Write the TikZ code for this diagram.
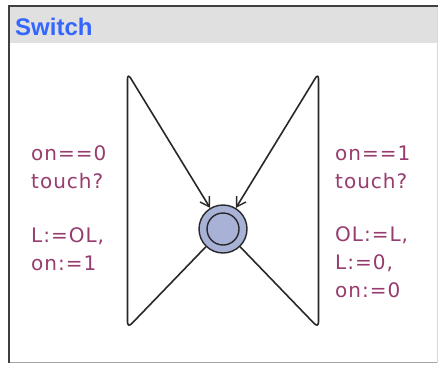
\documentclass[tikz,border=0pt]{standalone}
\usepackage{fontspec}
\setmainfont{DejaVu Sans}
\newfontfamily\labelfont[LetterSpace=5]{DejaVu Sans}
\newfontfamily\titlefont{Liberation Sans}
\usetikzlibrary{arrows.meta}
\definecolor{lblcol}{RGB}{150,60,110}
\definecolor{nodefill}{RGB}{168,178,214}
\definecolor{titleblue}{RGB}{51,102,255}
\definecolor{barbg}{RGB}{224,224,224}
\definecolor{edgecol}{RGB}{40,40,40}
\begin{document}
\begin{tikzpicture}[x=1pt,y=-1pt,
  loc/.style={circle,draw=edgecol,line width=1.4pt,fill=nodefill,minimum size=48pt,inner sep=0pt},
  innerring/.style={circle,draw=edgecol,line width=1.4pt,minimum size=32pt,inner sep=0pt},
  trans/.style={draw=edgecol,line width=1.6pt,rounded corners=6pt},
  tip/.style={-{Straight Barb[length=9pt,width=11pt,line width=1.4pt]}},
  lbl/.style={text=lblcol,font=\labelfont\fontsize{20}{28}\selectfont,align=left,anchor=base west,inner sep=0pt},
  ttl/.style={text=titleblue,font=\titlefont\bfseries\fontsize{24}{24}\selectfont,anchor=base west,inner sep=0pt}
]
\useasboundingbox (0,0) rectangle (438,364);
\fill[white] (0,0) rectangle (438,364);
\fill[barbg] (9,6) rectangle (437,43);
\draw[black!35,line width=1pt] (9,362.5) -- (437,362.5);
\draw[black!15,line width=1pt] (437,6) -- (437,362.5);
\draw[black!75,line width=2pt] (9,363) -- (9,6) -- (438,6);

\node[ttl] (title) at (15,35) {Switch};

\node[loc] (s) at (223,229) {};
\node[innerring] (sin) at (223,229) {};

\coordinate (tl) at (127.5,73);
\coordinate (bl) at (127.5,328);
\coordinate (tr) at (318.5,73);
\coordinate (br) at (318.5,328);

\draw[trans,tip] (s) -- (bl) -- (tl) -- (s);
\draw[trans,tip] (s) -- (br) -- (tr) -- (s);

\node[lbl] (g1) at (31,188) {on==0\\touch?};
\node[lbl] (a1) at (31,270) {L:=OL,\\on:=1};
\node[lbl] (g2) at (335,188) {on==1\\touch?};
\node[lbl] (a2) at (335,297) {OL:=L,\\L:=0,\\on:=0};
\end{tikzpicture}
\end{document}
